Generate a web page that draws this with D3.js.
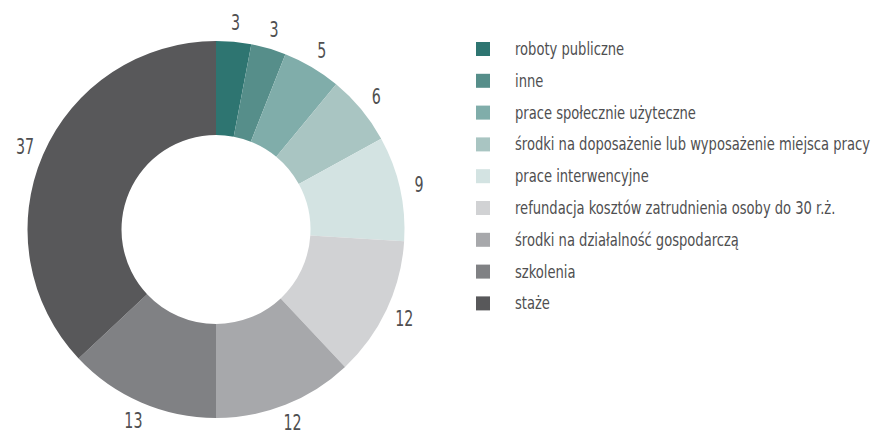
<!DOCTYPE html>
<html>
<head>
<meta charset="utf-8">
<script src="https://cdn.jsdelivr.net/npm/d3@7"></script>
<style>
  html, body { margin: 0; padding: 0; background: #fff; }
  svg { display: block; }
  text { font-family: "DejaVu Sans Condensed", "DejaVu Sans", sans-serif; fill: #4f4f51; }
</style>
</head>
<body>
<svg id="chart" width="879" height="437"></svg>
<script>
// Forms of support, share in %
const categories = [
  "roboty publiczne",
  "inne",
  "prace społecznie użyteczne",
  "środki na doposażenie lub wyposażenie miejsca pracy",
  "prace interwencyjne",
  "refundacja kosztów zatrudnienia osoby do 30 r.ż.",
  "środki na działalność gospodarczą",
  "szkolenia",
  "staże"
];
const values = [3, 3, 5, 6, 9, 12, 12, 13, 37];
const colors = ["#2e7571", "#568e8a", "#80adaa", "#a9c5c2", "#d3e3e2", "#d1d2d4", "#a7a8ab", "#808184", "#58585a"];

const svg = d3.select("#chart");
const cx = 216, cy = 229.5, outerR = 188.5, innerR = 94.5, labelR = 208;
// narrow typeface look: squeeze glyphs horizontally
const squeezeLegend = 0.81, squeezeValue = 0.72;

const data = categories.map((c, i) => ({ name: c, value: values[i], color: colors[i] }));

const pie = d3.pie().value(d => d.value).sort(null);
const arcs = pie(data);
const arc = d3.arc().innerRadius(innerR).outerRadius(outerR);
const labelArc = d3.arc().innerRadius(labelR).outerRadius(labelR);

const g = svg.append("g").attr("transform", `translate(${cx},${cy})`);

g.selectAll("path.slice")
  .data(arcs)
  .join("path")
  .attr("class", "slice")
  .attr("d", arc)
  .attr("fill", d => d.data.color);

g.selectAll("text.value")
  .data(arcs)
  .join("text")
  .attr("class", "value")
  .attr("transform", d => `translate(${labelArc.centroid(d)}) scale(${squeezeValue},1)`)
  .attr("text-anchor", "middle")
  .attr("dominant-baseline", "central")
  .style("font-size", "22px")
  .text(d => d.data.value);

// Legend
const legend = svg.append("g").attr("transform", "translate(476,49)");
const rowH = 31.8;
const items = legend.selectAll("g.item")
  .data(data)
  .join("g")
  .attr("class", "item")
  .attr("transform", (d, i) => `translate(0,${i * rowH})`);

items.append("rect")
  .attr("x", 0).attr("y", -7)
  .attr("width", 14).attr("height", 14)
  .attr("fill", d => d.color);

items.append("text")
  .attr("transform", `translate(39,0) scale(${squeezeLegend},1)`)
  .attr("dominant-baseline", "central")
  .style("font-size", "18px")
  .text(d => d.name);
</script>
</body>
</html>
